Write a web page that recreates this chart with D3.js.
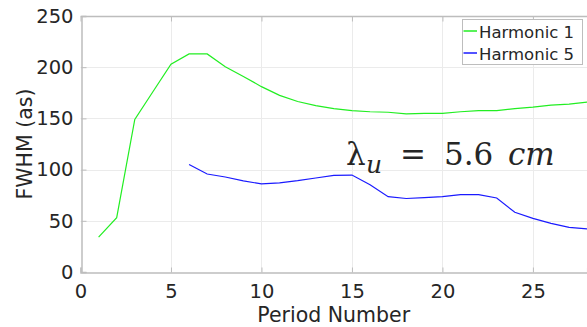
<!DOCTYPE html>
<html>
<head>
<meta charset="utf-8">
<script src="https://cdn.jsdelivr.net/npm/d3@7"></script>
<style>
  body { margin: 0; background: #fff; }
  svg text { font-family: "DejaVu Sans", sans-serif; fill: #262626; }
</style>
</head>
<body>
<div id="chart"></div>
<script>
// data
var periods = d3.range(1, 29);
var harm1 = [34, 53, 149, 176, 203, 213, 213, 200.5, 191, 181, 172.5, 166.5, 162.5, 159.5, 157.5,
  156.5, 156, 154.5, 155, 155, 156.5, 157.5, 157.5, 159.5, 161, 163, 164, 166];
var periods5 = d3.range(6, 29);
var harm5 = [105, 95.7, 92.8, 89, 86, 87, 89.2, 91.8, 94.4, 94.7, 85.3, 73.6, 71.8, 72.6, 73.6,
  75.5, 75.5, 72.3, 58.3, 52.4, 47.5, 43.6, 42];
var xTicks = [0, 5, 10, 15, 20, 25];
var yTicks = [0, 50, 100, 150, 200, 250];
var seriesNames = ["Harmonic 1", "Harmonic 5"];
var seriesColors = ["#22ee22", "#1a1aff"];

var svgWidth = 587, svgHeight = 327;
var margin = { top: 16, right: 0, bottom: 55, left: 80.5 };

var svg = d3.select("#chart").append("svg")
  .attr("width", svgWidth)
  .attr("height", svgHeight);

var x = d3.scaleLinear().domain([0, 28]).range([margin.left, svgWidth + 0.2]);
var y = d3.scaleLinear().domain([0, 250]).range([svgHeight - margin.bottom, margin.top]);

// grid
svg.append("g")
  .selectAll("line.gx")
  .data(xTicks.slice(1))
  .enter().append("line")
  .attr("x1", d => Math.round(x(d)) + 0.5).attr("x2", d => Math.round(x(d)) + 0.5)
  .attr("y1", y(0)).attr("y2", y(250))
  .attr("stroke", "#ebebeb");
svg.append("g")
  .selectAll("line.gy")
  .data(yTicks.slice(1, -1))
  .enter().append("line")
  .attr("x1", x(0)).attr("x2", svgWidth)
  .attr("y1", d => Math.round(y(d)) + 0.5).attr("y2", d => Math.round(y(d)) + 0.5)
  .attr("stroke", "#ebebeb");

// axes
var xAxis = svg.append("g")
  .attr("transform", "translate(0," + (Math.round(y(0)) + 0.5) + ")")
  .call(d3.axisBottom(x).tickValues(xTicks).tickSize(-5).tickPadding(12));
var yAxis = svg.append("g")
  .attr("transform", "translate(" + (Math.round(x(0)) + 0.5) + ",0)")
  .call(d3.axisLeft(y).tickValues(yTicks).tickSize(-5).tickPadding(8));
var topAxis = svg.append("g")
  .attr("transform", "translate(0," + (Math.round(y(250)) + 0.5) + ")")
  .call(d3.axisTop(x).tickValues(xTicks).tickSize(-5).tickFormat(""));

[xAxis, yAxis, topAxis].forEach(function (g) {
  g.select(".domain").attr("stroke", "#bdbdbd").attr("stroke-width", 1.5);
  g.selectAll(".tick line").attr("stroke", "#bdbdbd");
  g.selectAll(".tick text").style("font-size", "19.5px").attr("fill", "#262626");
});
topAxis.select(".domain").attr("d", "M" + x(0) + ",0H" + svgWidth);

// lines
var line = d3.line().x(d => x(d[0])).y(d => y(d[1]));
svg.append("path")
  .datum(periods.map((p, i) => [p, harm1[i]]))
  .attr("d", line)
  .attr("fill", "none")
  .attr("stroke", seriesColors[0])
  .attr("stroke-width", 1.2);
svg.append("path")
  .datum(periods5.map((p, i) => [p, harm5[i]]))
  .attr("d", line)
  .attr("fill", "none")
  .attr("stroke", seriesColors[1])
  .attr("stroke-width", 1.2);

// axis labels
svg.append("text")
  .attr("x", (x(0) + svgWidth) / 2 + 0)
  .attr("y", 321.5)
  .attr("text-anchor", "middle")
  .style("font-size", "20.5px")
  .text("Period Number");
svg.append("text")
  .attr("transform", "translate(32," + 144 + ") rotate(-90)")
  .attr("text-anchor", "middle")
  .style("font-size", "20.5px")
  .text("FWHM (as)");

// annotation: lambda_u = 5.6 cm
var ann = svg.append("text")
  .attr("y", 165)
  .style("font-family", "'DejaVu Serif', serif")
  .style("font-size", "31px")
  .attr("fill", "#000");
ann.append("tspan").attr("x", 346).text("\u03bb");
ann.append("tspan").attr("x", 366).attr("font-style", "italic").attr("font-size", "25px").attr("dy", 8).text("u");
ann.append("tspan").attr("x", 400).attr("dy", -8).text("=");
ann.append("tspan").attr("x", 444).text("5.6");
ann.append("tspan").attr("x", 508).attr("font-style", "italic").text("cm");

// legend
var legend = svg.append("g");
legend.append("rect")
  .attr("x", 462.5).attr("y", 19.5)
  .attr("width", 120).attr("height", 45)
  .attr("fill", "#fff")
  .attr("stroke", "#bdbdbd");
seriesNames.forEach(function (name, i) {
  var ly = 31 + i * 22;
  legend.append("line")
    .attr("x1", 463.5).attr("x2", 477)
    .attr("y1", ly).attr("y2", ly)
    .attr("stroke", seriesColors[i])
    .attr("stroke-width", 1.5);
  legend.append("text")
    .attr("x", 479).attr("y", ly + 7)
    .style("font-size", "16.5px")
    .text(name);
});
</script>
</body>
</html>
